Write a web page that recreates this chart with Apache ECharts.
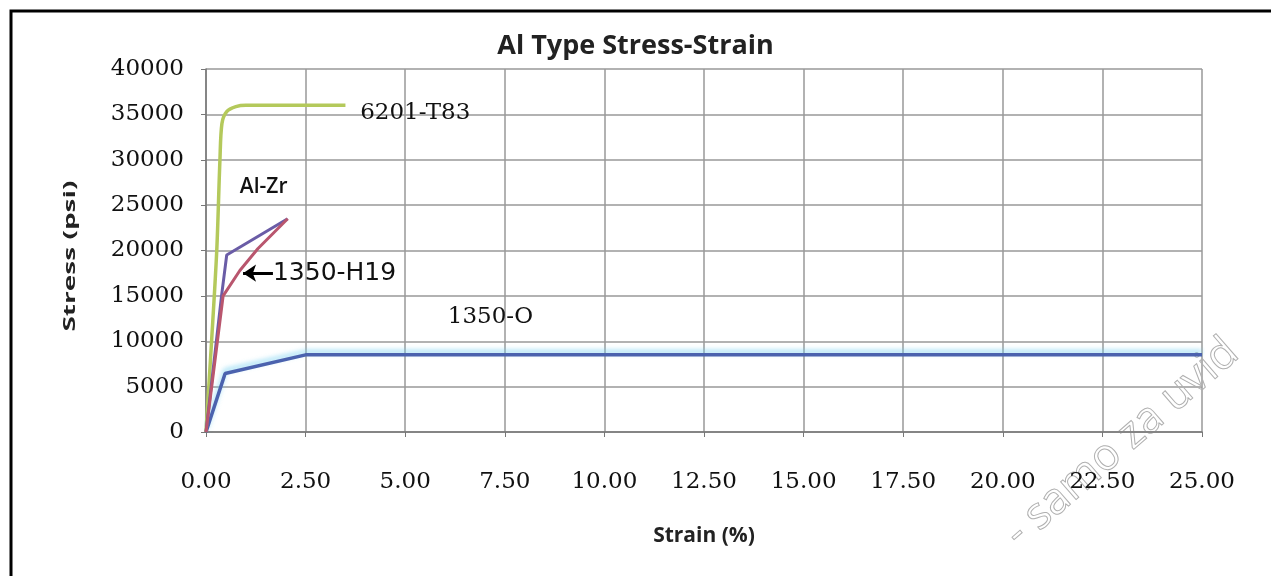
<!DOCTYPE html>
<html><head><meta charset="utf-8">
<script src="https://cdn.jsdelivr.net/npm/echarts@6/dist/echarts.min.js"></script>
<style>html,body{margin:0;padding:0;background:#fff}#c{width:1271px;height:576px}</style>
</head><body><div id="c"></div>
<script>
const xTicks = ['0.00','2.50','5.00','7.50','10.00','12.50','15.00','17.50','20.00','22.50','25.00'];
const yTicks = ['0','5000','10000','15000','20000','25000','30000','35000','40000'];
const s1350O = [[0,0],[0.48,6450],[2.5,8500],[25,8500]];
const s6201 = [[0,0],[0.14,10000],[0.27,20000],[0.35,30000],[0.4,34000],[0.52,35300],[0.75,35850],[1.0,36000],[3.5,36000]];
const sAlZr = [[0,0],[0.39,15000],[0.52,19500],[2.05,23500]];
const sH19 = [[0,0],[0.43,15000],[0.85,17800],[1.3,20200],[2.05,23500]];
const labels = [
  {text:'6201-T83', at:[3.87,35100], font:'23px "DejaVu Serif"'},
  {text:'Al-Zr', at:[0.85,26980], font:'600 21px "Open Sans"'},
  {text:'1350-H19', at:[1.68,17500], font:'25px "DejaVu Sans"'},
  {text:'1350-O', at:[6.07,12665], font:'23px "DejaVu Serif"'}
];
const arrowLine = [[1.68,17500],[0.93,17500]];

const chart = echarts.init(document.getElementById('c'));
const serif = 'DejaVu Serif';
const sans = 'Open Sans';
chart.setOption({
  animation:false,
  backgroundColor:'#fff',
  title:{text:'Al Type Stress-Strain', left:'center', top:28,
    textStyle:{fontFamily:sans,fontWeight:'bold',fontSize:27,color:'#222'}},
  grid:{left:206,right:69,top:69,bottom:144},
  xAxis:{type:'value',min:0,max:25,interval:2.5,
    name:'Strain (%)',nameLocation:'middle',nameGap:94,
    nameTextStyle:{fontFamily:sans,fontWeight:'bold',fontSize:21,color:'#222'},
    axisLine:{lineStyle:{color:'#777',width:1.5}},
    axisTick:{show:true,length:5,lineStyle:{color:'#777'}},
    axisLabel:{formatter:v=>xTicks[Math.round(v/2.5)],margin:39,fontFamily:serif,fontSize:23,color:'#111'},
    splitLine:{lineStyle:{color:'#999',width:1.5}}},
  yAxis:{type:'value',min:0,max:40000,interval:5000,
    axisLine:{show:true,lineStyle:{color:'#777',width:1.5}},
    axisTick:{show:true,length:5,lineStyle:{color:'#777'}},
    axisLabel:{formatter:v=>yTicks[Math.round(v/5000)],margin:22,fontFamily:serif,fontSize:23,color:'#111'},
    splitLine:{lineStyle:{color:'#999',width:1.5}}},
  series:[
    {name:'1350-O',type:'line',data:s1350O,showSymbol:false,
      lineStyle:{color:'#4B62AE',width:3.5,shadowColor:'rgba(110,205,240,0.7)',shadowBlur:5,shadowOffsetY:-3}},
    {name:'6201-T83',type:'line',data:s6201,showSymbol:false,smooth:0.3,
      lineStyle:{color:'#B4C95B',width:3.5}},
    {name:'Al-Zr',type:'line',data:sAlZr,showSymbol:false,
      lineStyle:{color:'#6A5CA6',width:3}},
    {name:'1350-H19',type:'line',data:sH19,showSymbol:false,
      lineStyle:{color:'#B9566E',width:3},
      markLine:{silent:true,symbol:['none','arrow'],symbolSize:[13,13],
        label:{show:false},
        lineStyle:{color:'#000',width:3,type:'solid'},
        data:[[{coord:arrowLine[0]},{coord:arrowLine[1]}]]}}
  ]
});
const g = labels.map(l=>{
  const p = chart.convertToPixel({gridIndex:0}, l.at);
  return {type:'text', x:p[0], y:p[1], style:{text:l.text, font:l.font, fill:'#111', align:'left', verticalAlign:'middle'}};
});
g.push({type:'text', x:70, y:256, rotation:Math.PI/2, scaleX:1.75, scaleY:1,
  style:{text:'Stress (psi)', font:'bold 16px "Open Sans"', fill:'#222', align:'center', verticalAlign:'middle'}});
g.push({type:'rect', shape:{x:11,y:11,width:1400,height:700}, style:{fill:'none',stroke:'#000',lineWidth:3}});
g.push({type:'text', x:1122, y:443, rotation:41*Math.PI/180,
  style:{text:'- samo za uvid', font:'44px "Open Sans"', fill:'rgba(255,255,255,0)', stroke:'#b0b0b0', lineWidth:1, align:'center', verticalAlign:'middle'}});
chart.setOption({graphic:g});
</script></body></html>
